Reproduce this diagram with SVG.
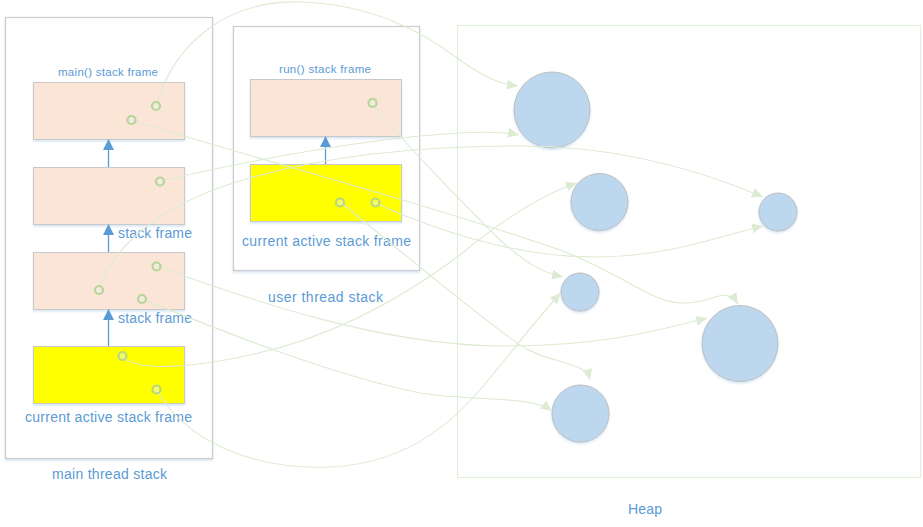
<svg xmlns="http://www.w3.org/2000/svg" width="923" height="527" viewBox="0 0 923 527">
<style>
  text { font-family: "Liberation Sans", "DejaVu Sans", sans-serif; fill: #5B9BD5; }
  .small { font-size: 11.5px; }
  .lbl { font-size: 14px; }
  .container { fill: #FFFFFF; stroke: #CCCCCC; stroke-width: 1.2; }
  .frame { fill: #FBE5D6; stroke: #C9C9C9; stroke-width: 1; }
  .active { fill: #FFFF00; stroke: #C9C9C9; stroke-width: 1; }
  .obj { fill: #BDD7EE; stroke: #BFBFBF; stroke-width: 1; }
  .link { fill: none; stroke: #DDEBD2; stroke-width: 1.1; }
  .ref { fill: #F2F7EE; fill-opacity: 0.35; stroke: #A9D18E; stroke-width: 2.2; stroke-opacity: 0.85; }
  .up { stroke: #5B9BD5; stroke-width: 1.3; fill: none; }
</style>
<defs>
  <marker id="ga" markerUnits="userSpaceOnUse" markerWidth="12" markerHeight="10" refX="11" refY="5" orient="auto">
    <path d="M0,0 L11,5 L0,10 z" fill="#DDEBD2"/>
  </marker>
  <marker id="ba" markerUnits="userSpaceOnUse" markerWidth="12" markerHeight="12" refX="5.5" refY="1" orient="0">
    <path d="M0,11 L5.5,0 L11,11 z" fill="#5B9BD5"/>
  </marker>
  <filter id="sh" x="-10%" y="-10%" width="120%" height="130%">
    <feDropShadow dx="0" dy="1.5" stdDeviation="1" flood-color="#9DC3E6" flood-opacity="0.45"/>
  </filter>
</defs>

<g id="heap">
  <rect x="457.5" y="25.5" width="463" height="452" fill="none" stroke="#E2F0D9" stroke-width="1.2"/>
  <text class="lbl" x="628" y="514" textLength="34" lengthAdjust="spacing">Heap</text>
</g>

<g id="main-thread-stack">
  <rect class="container" x="5.5" y="17.5" width="207" height="441" filter="url(#sh)"/>
  <text class="lbl" x="52" y="479" textLength="115" lengthAdjust="spacing">main thread stack</text>
</g>
<g id="main-frame">
  <text class="small" x="58" y="76" textLength="100" lengthAdjust="spacing">main() stack frame</text>
  <rect class="frame" x="33.5" y="82.5" width="151" height="57" filter="url(#sh)"/>
</g>
<g id="frame-2">
  <rect class="frame" x="33.5" y="167.5" width="151" height="57" filter="url(#sh)"/>
  <text class="lbl" x="118" y="238" textLength="74" lengthAdjust="spacing">stack frame</text>
</g>
<g id="frame-3">
  <rect class="frame" x="33.5" y="252.5" width="151" height="57" filter="url(#sh)"/>
  <text class="lbl" x="118" y="323" textLength="74" lengthAdjust="spacing">stack frame</text>
</g>
<g id="main-active-frame">
  <rect class="active" x="33.5" y="346.5" width="151" height="57" filter="url(#sh)"/>
  <text class="lbl" x="25" y="422" textLength="167" lengthAdjust="spacing">current active stack frame</text>
</g>

<g id="user-thread-stack">
  <rect class="container" x="233.5" y="26.5" width="186" height="244" filter="url(#sh)"/>
  <text class="lbl" x="268" y="302" textLength="115" lengthAdjust="spacing">user thread stack</text>
</g>
<g id="run-frame">
  <text class="small" x="279" y="73" textLength="92" lengthAdjust="spacing">run() stack frame</text>
  <rect class="frame" x="250.5" y="79.5" width="151" height="57" filter="url(#sh)"/>
</g>
<g id="user-active-frame">
  <rect class="active" x="250.5" y="164.5" width="151" height="57" filter="url(#sh)"/>
  <text class="lbl" x="242" y="246" textLength="169" lengthAdjust="spacing">current active stack frame</text>
</g>

<g id="objects">
  <circle id="obj1" class="obj" cx="552" cy="110" r="38" filter="url(#sh)"/>
  <circle id="obj2" class="obj" cx="599.5" cy="202" r="28.5" filter="url(#sh)"/>
  <circle id="obj3" class="obj" cx="778" cy="212" r="19" filter="url(#sh)"/>
  <circle id="obj4" class="obj" cx="580" cy="292" r="19" filter="url(#sh)"/>
  <circle id="obj5" class="obj" cx="740" cy="343.5" r="38" filter="url(#sh)"/>
  <circle id="obj6" class="obj" cx="580.5" cy="413.5" r="28.5" filter="url(#sh)"/>
</g>

<g id="connectors">
  <g id="stack-links">
    <line class="up" x1="108.5" y1="167" x2="108.5" y2="140" marker-end="url(#ba)"/>
    <line class="up" x1="108.5" y1="252" x2="108.5" y2="225" marker-end="url(#ba)"/>
    <line class="up" x1="108.5" y1="346" x2="108.5" y2="310" marker-end="url(#ba)"/>
    <line class="up" x1="325.5" y1="164" x2="325.5" y2="137" marker-end="url(#ba)"/>
  </g>
  <g id="refs">
    <path class="link" d="M156,106 C175,40 230,0 300,2 C370,4 420,30 460,60 C485,78 500,84 518,86" marker-end="url(#ga)"/>
    <path class="link" d="M160,181 C230,165 330,145 420,136 C470,131 500,131 519,135" marker-end="url(#ga)"/>
    <path class="link" d="M122,356 C135,372 190,368 250,355 C330,338 400,300 460,255 C500,222 540,195 577,183" marker-end="url(#ga)"/>
    <path class="link" d="M99,290 C115,240 170,200 250,178 C330,155 420,146 520,146 C620,146 700,170 763,197" marker-end="url(#ga)"/>
    <path class="link" d="M375,203 C440,232 520,258 600,257 C670,256 720,236 763,226" marker-end="url(#ga)"/>
    <path class="link" d="M372,103 C410,150 460,200 500,240 C525,262 540,272 563,277" marker-end="url(#ga)"/>
    <path class="link" d="M156,389 C185,440 250,470 330,467 C400,464 445,430 480,390 C510,355 535,320 561,293" marker-end="url(#ga)"/>
    <path class="link" d="M131,120 C260,160 430,205 560,250 C620,272 650,302 680,303 C705,304 715,295 725,295 Q733,296 738,304" marker-end="url(#ga)"/>
    <path class="link" d="M156,266 C250,300 380,345 500,346 C600,347 660,330 707,318" marker-end="url(#ga)"/>
    <path class="link" d="M340,202 C400,250 470,310 520,345 C550,365 585,360 590,380" marker-end="url(#ga)"/>
    <path class="link" d="M142,299 C220,330 330,375 420,393 C480,402 530,395 552,411" marker-end="url(#ga)"/>
  </g>
</g>

<g id="refs-dots">
  <circle class="ref" cx="156" cy="106" r="4"/>
  <circle class="ref" cx="131.5" cy="120" r="4"/>
  <circle class="ref" cx="160" cy="181.5" r="4"/>
  <circle class="ref" cx="156.5" cy="266.5" r="4"/>
  <circle class="ref" cx="99" cy="290" r="4"/>
  <circle class="ref" cx="142" cy="299" r="4"/>
  <circle class="ref" cx="122.5" cy="356" r="4"/>
  <circle class="ref" cx="156.5" cy="389.5" r="4"/>
  <circle class="ref" cx="372.5" cy="103" r="4"/>
  <circle class="ref" cx="340" cy="202.5" r="4"/>
  <circle class="ref" cx="375.5" cy="202.5" r="4"/>
</g>
</svg>
